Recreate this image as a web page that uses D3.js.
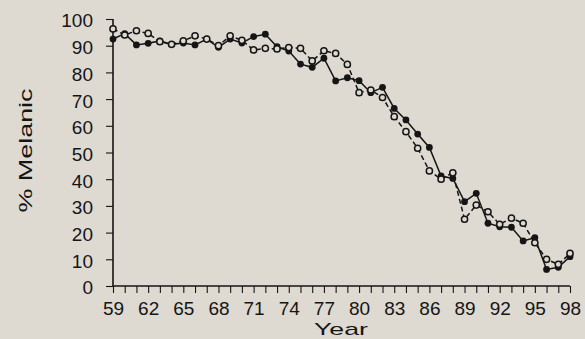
<!DOCTYPE html>
<html><head><meta charset="utf-8">
<script src="https://cdn.jsdelivr.net/npm/d3@7"></script>
<style>html,body{margin:0;padding:0;background:#dedad2;}svg{display:block;}</style>
</head><body>
<script>
const years = d3.range(59, 99);
const filledSeries = [92.5,94.5,90.3,90.9,91.8,90.5,91.0,90.3,92.5,89.4,92.5,91.0,93.4,94.3,89.6,88.0,83.1,81.9,85.3,76.8,78.0,76.9,72.4,74.4,66.5,62.2,56.9,51.9,41.2,40.3,31.6,34.7,23.5,22.2,22.0,16.9,18.1,6.2,7.0,11.0];
const openSeries = [96.3,94.0,95.6,94.6,91.5,90.5,91.8,93.7,92.5,90.0,93.7,92.0,88.4,89.0,88.8,89.3,89.0,84.3,88.1,87.1,83.0,72.4,73.4,70.6,63.4,57.8,51.6,43.1,40.0,42.4,25.0,30.3,27.8,23.1,25.4,23.5,16.2,10.0,8.1,12.2];
const yTicks = [0,10,20,30,40,50,60,70,80,90,100];
const xTickLabels = [59,62,65,68,71,74,77,80,83,86,89,92,95,98];

const W = 585, H = 339;
const svg = d3.select("body").append("svg").attr("width", W).attr("height", H);
const x = d3.scaleLinear().domain([59, 98]).range([113, 570]);
const y = d3.scaleLinear().domain([0, 100]).range([286, 19]);
const font = "'Liberation Sans', Arial, Helvetica, sans-serif";
const ink = "#151515";

// axes
const yAxis = svg.append("g").attr("transform", `translate(${x(59)},0)`)
  .call(d3.axisLeft(y).tickValues(yTicks).tickSize(7).tickPadding(13));
const xAxis = svg.append("g").attr("transform", `translate(0,${y(0)})`)
  .call(d3.axisBottom(x).tickValues(years).tickSize(7).tickPadding(9)
    .tickFormat(d => xTickLabels.includes(d) ? d : ""));
[yAxis, xAxis].forEach(g => {
  g.select(".domain").attr("stroke", ink).attr("stroke-width", 1.6);
  g.selectAll(".tick line").attr("stroke", ink).attr("stroke-width", 1.1);
  g.selectAll("text").attr("fill", ink).style("font-family", font).style("font-size", "19px");
});
yAxis.selectAll(".tick text").attr("dy", "0.42em");
xAxis.select(".domain").attr("d", `M${x(59)},0H${x(98)}`);
yAxis.select(".domain").attr("d", `M0,${y(100)}V${y(0)}`);

// axis titles
svg.append("text").attr("x", 341).attr("y", 335).attr("text-anchor", "middle")
  .attr("textLength", 54).attr("lengthAdjust", "spacingAndGlyphs")
  .style("font-family", font).style("font-size", "17px").attr("fill", ink).text("Year");
svg.append("text").attr("transform", `translate(32,150.5) rotate(-90)`).attr("text-anchor", "middle")
  .attr("textLength", 124).attr("lengthAdjust", "spacingAndGlyphs")
  .style("font-family", font).style("font-size", "18.5px").attr("fill", ink).text("% Melanic");

const line = d3.line().x((d, i) => x(years[i])).y(d => y(d));

// dashed open series
svg.append("path").datum(openSeries).attr("d", line).attr("fill", "none")
  .attr("stroke", ink).attr("stroke-width", 1.5).attr("stroke-dasharray", "5,3");
// solid filled series
svg.append("path").datum(filledSeries).attr("d", line).attr("fill", "none")
  .attr("stroke", ink).attr("stroke-width", 1.5);

svg.append("g").selectAll("circle").data(filledSeries).join("circle")
  .attr("cx", (d, i) => x(years[i])).attr("cy", d => y(d)).attr("r", 3.4).attr("fill", ink);
svg.append("g").selectAll("circle").data(openSeries).join("circle")
  .attr("cx", (d, i) => x(years[i])).attr("cy", d => y(d)).attr("r", 3.1)
  .attr("fill", "#dedad2").attr("stroke", ink).attr("stroke-width", 1.5);
</script>
</body></html>
